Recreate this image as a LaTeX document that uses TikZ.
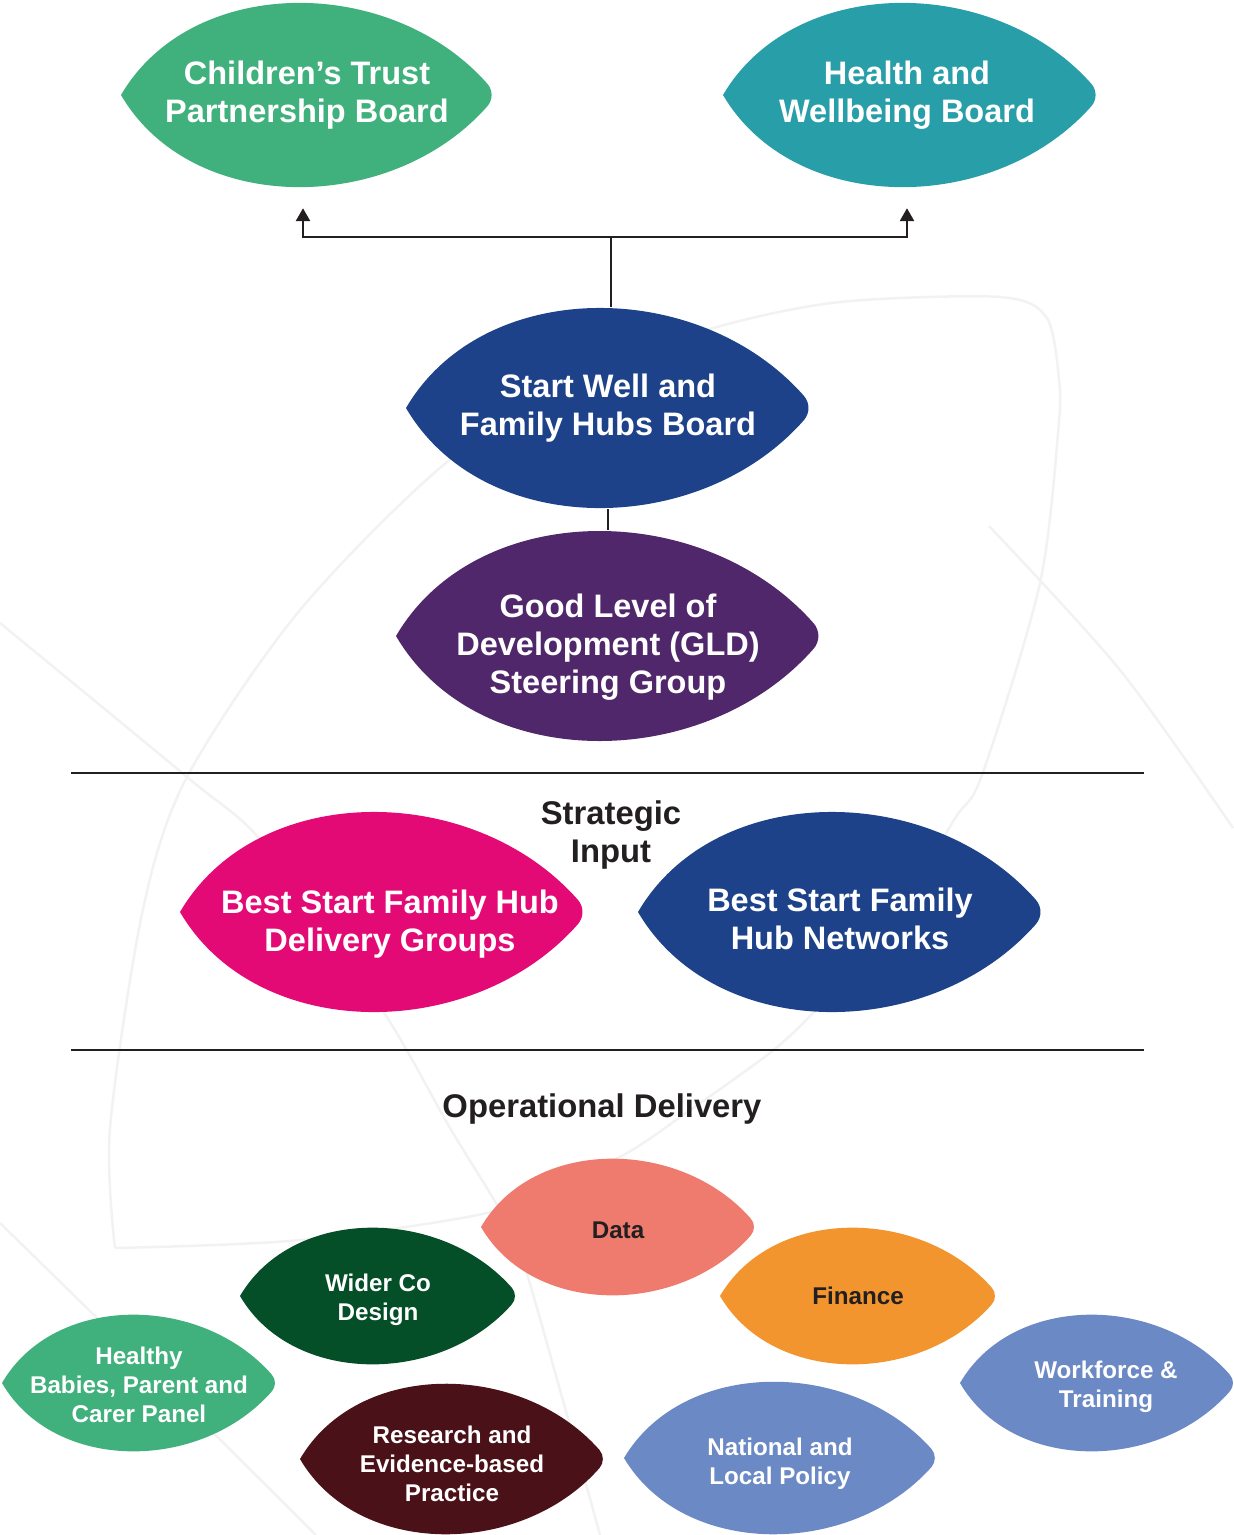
\documentclass[tikz,border=0pt]{standalone}
\usepackage{fontspec}
\setmainfont{Liberation Sans}
\usetikzlibrary{calc,positioning,arrows.meta}

\definecolor{ink}{HTML}{231F20}
\definecolor{trustgreen}{HTML}{40B17D}
\definecolor{healthteal}{HTML}{289EA8}
\definecolor{hubblue}{HTML}{1D428A}
\definecolor{gldpurple}{HTML}{51276C}
\definecolor{hubpink}{HTML}{E40A75}
\definecolor{datasalmon}{HTML}{EE7B6E}
\definecolor{financeorange}{HTML}{F2952F}
\definecolor{codesigngreen}{HTML}{044F27}
\definecolor{researchred}{HTML}{4A1118}
\definecolor{policyblue}{HTML}{6B89C4}

% leaf: [node options]{name}{centre}{half width}{half height}{colour}{text}
\newcommand{\leaf}[7][]{%
  \begin{scope}[shift={(#3)}]
    \fill[#6] (-#4,0) .. controls (-0.62*#4,-1.3*#5) and (0.45*#4,-1.3*#5) .. (0.97*#4,-0.12*#5)
      .. controls (1.0*#4,-0.05*#5) and (1.0*#4,0.05*#5) .. (0.97*#4,0.12*#5)
      .. controls (0.45*#4,1.3*#5) and (-0.62*#4,1.3*#5) .. (-#4,0) -- cycle;
  \end{scope}
  \node[leaftext,#1,minimum width=2*#4,minimum height=2*#5] (#2) at (#3) {#7};
}

\begin{document}
\begin{tikzpicture}[x=1pt,y=-1pt,
    leaftext/.style={text=white,font=\bfseries\fontsize{32.5}{38}\selectfont,align=center,inner sep=0pt},
    smalltext/.style={font=\bfseries\fontsize{24.2}{29}\selectfont},
    darktext/.style={text=ink},
    heading/.style={text=ink,font=\bfseries\fontsize{32.8}{38}\selectfont,align=center},
    conn/.style={draw=ink,line width=2.6pt},
    faint/.style={draw=black!5,line width=2.5pt}]
  \useasboundingbox (0,0) rectangle (1234,1535);

  % faint background leaves
  \draw[faint] plot[smooth] coordinates {(115,1248) (110,1128) (143,909) (187,777) (300,610) (453,457) (600,370) (717,327) (840,302) (1000,297) (1047,318) (1059,380)};
  \draw[faint] plot[smooth] coordinates {(1059,380) (1059,422) (1040,583) (982,775) (954,820) (880,940) (814,1012) (771,1052) (686,1113) (618,1158) (500,1210) (300,1240) (115,1248)};
  \draw[faint] plot[smooth] coordinates {(0,623) (187,777) (265,845) (383,1011) (450,1128) (498,1207) (525,1267) (600,1535)};
  \draw[faint] plot[smooth] coordinates {(0,1223) (150,1370) (316,1535)};
  \draw[faint] plot[smooth] coordinates {(989,526) (1120,670) (1233,828)};

  % boards
  \leaf{ctp}{307,95}{186}{93}{trustgreen}{Children’s Trust\\Partnership Board}
  \leaf[xshift=-3pt]{hwb}{910,95}{187}{93}{healthteal}{Health and\\Wellbeing Board}
  \leaf{swb}{608,408}{202}{101}{hubblue}{Start Well and\\Family Hubs Board}
  \leaf[yshift=-11pt]{gld}{608,636}{212}{106}{gldpurple}{Good Level of\\Development (GLD)\\Steering Group}

  \coordinate (fork) at ($(swb.north)+(3,-70)$);
  \draw[conn] (fork |- swb.north) -- (fork);
  \draw[conn,-{Triangle[width=14pt,length=13pt]},shorten >=20pt] (fork) -| ($(ctp.south)+(-4,0)$);
  \draw[conn,-{Triangle[width=14pt,length=13pt]},shorten >=20pt] (fork) -| (hwb.south);
  \draw[conn] (swb.south) -- ($(gld.north)+(0,-11)$);

  % strategic input
  \draw[conn] (71,773) -- (1144,773);
  \node[heading] (strat) at (611,835) {Strategic\\Input};
  \leaf[xshift=8pt,yshift=-12pt]{bsdg}{382,912}{202}{101}{hubpink}{Best Start Family Hub\\Delivery Groups}
  \leaf[yshift=-7pt]{bsnet}{840,912}{202}{101}{hubblue}{Best Start Family\\Hub Networks}
  \draw[conn] (71,1050) -- (1144,1050);

  % operational delivery
  \node[heading] (oper) at (602,1109) {Operational Delivery};
  \leaf[smalltext,darktext,yshift=-3pt]{data}{618,1227}{137}{69}{datasalmon}{Data}
  \leaf[smalltext,darktext]{fin}{858,1296}{138}{69}{financeorange}{Finance}
  \leaf[smalltext,yshift=-4pt]{codes}{378,1296}{138}{69}{codesigngreen}{Wider Co\\Design}
  \leaf[smalltext,yshift=-2pt]{panel}{139,1383}{137}{69}{trustgreen}{Healthy\\Babies, Parent and\\Carer Panel}
  \leaf[smalltext,yshift=-5pt]{resrch}{452,1459}{152}{76}{researchred}{Research and\\Evidence-based\\Practice}
  \leaf[smalltext,yshift=-6pt]{policy}{780,1458}{156}{77}{policyblue}{National and\\Local Policy}
  \leaf[smalltext,xshift=9pt,yshift=-4pt]{work}{1097,1383}{137}{69}{policyblue}{Workforce \&\\Training}
\end{tikzpicture}
\end{document}
